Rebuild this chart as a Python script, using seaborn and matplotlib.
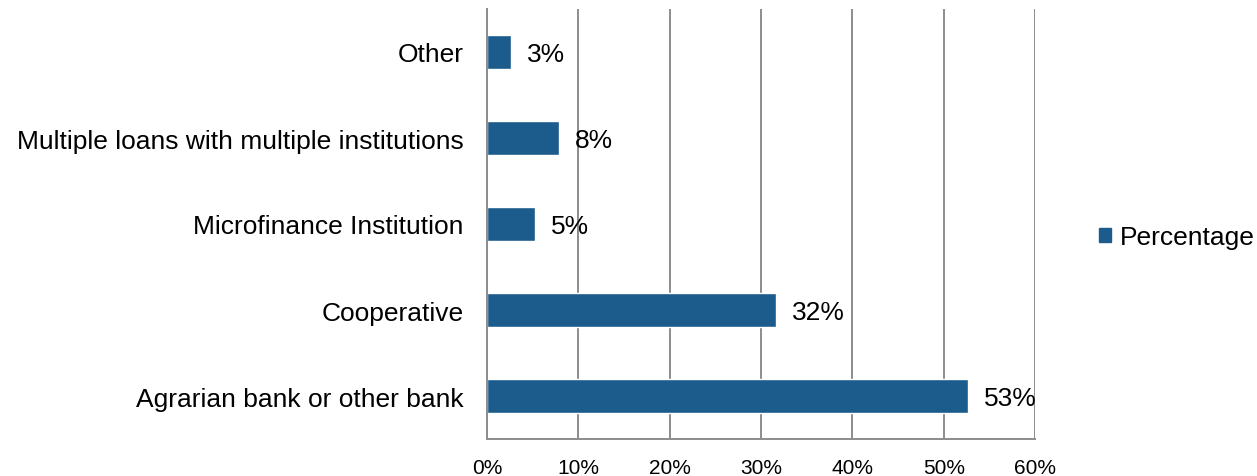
import matplotlib
matplotlib.use("Agg")
import matplotlib.pyplot as plt
import seaborn as sns
import pandas as pd
from matplotlib.patches import Patch
from matplotlib.ticker import FixedLocator

categories = ["Other", "Multiple loans with multiple institutions", "Microfinance Institution",
              "Cooperative", "Agrarian bank or other bank"]
values = [2.6, 7.9, 5.3, 31.6, 52.7]
value_labels = ["3%", "8%", "5%", "32%", "53%"]
x_ticks = [0, 10, 20, 30, 40, 50, 60]
x_tick_labels = ["0%", "10%", "20%", "30%", "40%", "50%", "60%"]
series_name = "Percentage"

sns.set_style("white")
plt.rcParams['font.family'] = ['Liberation Sans', 'DejaVu Sans']
plt.rcParams['text.color'] = "#000000"

bar_color = "#1C5C8C"
grid_color = "#8C8C8C"

df = pd.DataFrame({"category": categories, "value": values})

fig = plt.figure(figsize=(12.57, 4.77), dpi=100)
ax = fig.add_axes([487/1257, 37/477, (1035-487)/1257, (440-10)/477])

sns.barplot(data=df, x="value", y="category", order=categories, color=bar_color,
            width=0.4, saturation=1, ax=ax, orient="h")
ax.set_xlim(0, 60)
ax.set_ylim(4.5, -0.5)
ax.set_xlabel("")
ax.set_ylabel("")

ax.set_xticks(x_ticks)
ax.set_xticklabels(x_tick_labels, fontsize=15)
ax.xaxis.grid(True, color=grid_color, linewidth=1.4)
ax.set_axisbelow(True)
ax.tick_params(axis="x", which="major", direction="out", length=6, width=1.4,
               color=grid_color, pad=8, labelcolor="#000000")

ax.yaxis.set_minor_locator(FixedLocator([-0.5, 0.5, 1.5, 2.5, 3.5, 4.5]))
ax.tick_params(axis="y", which="minor", direction="out", length=6, width=1.4, color=grid_color)
ax.tick_params(axis="y", which="major", length=0, pad=17, labelsize=19, labelcolor="#000000")

for s in ["top", "right"]:
    ax.spines[s].set_visible(False)
for s in ["left", "bottom"]:
    ax.spines[s].set_color(grid_color)
    ax.spines[s].set_linewidth(1.4)

texts = ax.bar_label(ax.containers[0], labels=value_labels, padding=11.5, fontsize=19,
                     color="#000000")
for t in texts:
    t.set_va("center_baseline")

handle = Patch(facecolor=bar_color, edgecolor=bar_color)
leg = fig.legend([handle], [series_name], loc="center left", bbox_to_anchor=(1099/1257, 1 - 238/477),
                 frameon=False, fontsize=19, handlelength=0.45, handleheight=0.45, handletextpad=0.35,
                 borderaxespad=0, borderpad=0)
for t in leg.get_texts():
    t.set_color("#000000")

fig.savefig("out.png", dpi=100)
